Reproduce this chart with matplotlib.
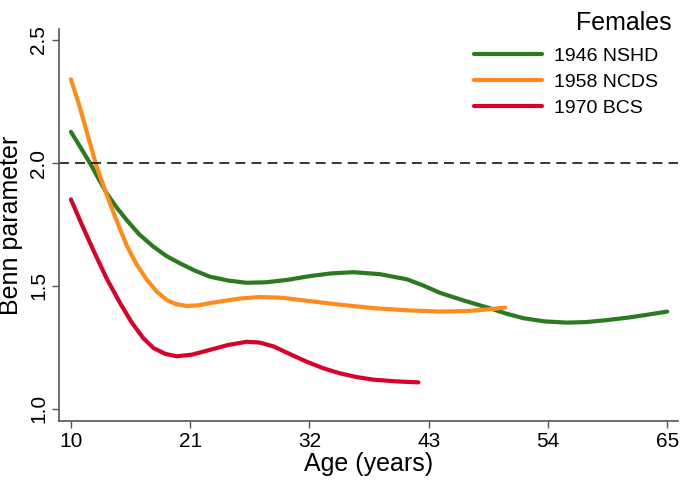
import matplotlib
matplotlib.use("Agg")
import matplotlib.pyplot as plt

plt.rcParams['font.family'] = ['Liberation Sans', 'DejaVu Sans']

# values
age_nshd = [10, 11, 11.75, 12.5, 13.3, 14.2, 15.14, 16.3, 17.6, 18.8, 20.06, 21.4, 22.8, 24.5,
            26.2, 28, 30, 32, 34, 36.05, 38.5, 41, 42.5, 44.05, 46.3, 48.67, 50.2, 51.74,
            53.7, 55.74, 57.5, 59.4, 61.5, 63.3, 65]
benn_nshd = [2.127, 2.055, 2.0, 1.94, 1.877, 1.82, 1.768, 1.71, 1.66, 1.622, 1.592, 1.563,
             1.538, 1.522, 1.513, 1.515, 1.525, 1.54, 1.551, 1.556, 1.548, 1.527, 1.502, 1.472,
             1.44, 1.409, 1.387, 1.369, 1.356, 1.351, 1.353, 1.361, 1.372, 1.384, 1.396]

age_ncds = [10, 10.8, 11.6, 12.37, 13.0, 13.6, 14.4, 15.14, 16.0, 16.99, 17.9, 18.83, 19.7,
            20.68, 21.7, 22.8, 24.2, 25.6, 27.4, 29.5, 31.75, 34.8, 37.9, 41, 44.05, 46.5,
            48.3, 50.05]
benn_ncds = [2.34, 2.23, 2.105, 1.985, 1.908, 1.836, 1.745, 1.665, 1.592, 1.526, 1.478, 1.443,
             1.426, 1.419, 1.421, 1.43, 1.44, 1.449, 1.455, 1.452, 1.44, 1.424, 1.41, 1.401,
             1.396, 1.398, 1.404, 1.412]

age_bcs = [10, 11, 12.06, 13.3, 14.5, 15.6, 16.67, 17.6, 18.7, 19.75, 21.2, 22.8, 24.5, 26.2,
           27.4, 28.7, 30.2, 31.75, 33.3, 34.8, 36.3, 37.9, 40, 42.05]
benn_bcs = [1.852, 1.75, 1.646, 1.53, 1.433, 1.352, 1.288, 1.248, 1.224, 1.214, 1.221, 1.24,
            1.26, 1.273, 1.27, 1.254, 1.223, 1.192, 1.165, 1.145, 1.13, 1.119, 1.112, 1.108]

labels = ['1946 NSHD', '1958 NCDS', '1970 BCS']
colors = ['#2a7a1f', '#ff8c1a', '#d9002a']
xticks = [10, 21, 32, 43, 54, 65]
yticks = [1.0, 1.5, 2.0, 2.5]

fig = plt.figure(figsize=(6.83, 4.83), dpi=100)
ax = fig.add_axes([0.0864, 0.1284, 0.9063, 0.8116])

series = [(age_nshd, benn_nshd), (age_ncds, benn_ncds), (age_bcs, benn_bcs)]
for (x, y), lab, c in zip(series, labels, colors):
    ax.plot(x, y, color=c, lw=3, label=lab, solid_capstyle='round', solid_joinstyle='round')

ax.axhline(2.0, color='black', lw=1.1, ls=(0, (6.5, 4)))

ax.set_xlim(8.9, 66.0)
ax.set_ylim(0.951, 2.545)
ax.set_xticks(xticks)
ax.set_yticks(yticks)
ax.set_yticklabels([f'{v:.1f}' for v in yticks], rotation=90, va='center')
ax.tick_params(labelsize=15, length=5, color='#555555', width=1)
ax.tick_params(axis='y', pad=3)
ax.tick_params(axis='x', pad=3)
for s in ['top', 'right']:
    ax.spines[s].set_visible(False)
for s in ['left', 'bottom']:
    ax.spines[s].set_color('#555555')
    ax.spines[s].set_linewidth(1.2)

ax.set_xlabel('Age (years)', fontsize=18, labelpad=1)
ax.set_ylabel('Benn parameter', fontsize=18, labelpad=4)

fig.legend(loc='upper left', bbox_to_anchor=(0.694, 0.902), frameon=False, fontsize=14,
           handlelength=3.5, borderpad=0, borderaxespad=0, labelspacing=0.42, handletextpad=0.6)
fig.text(0.984, 0.952, 'Females', ha='right', va='center', fontsize=18)

fig.savefig('out.png', dpi=100)
